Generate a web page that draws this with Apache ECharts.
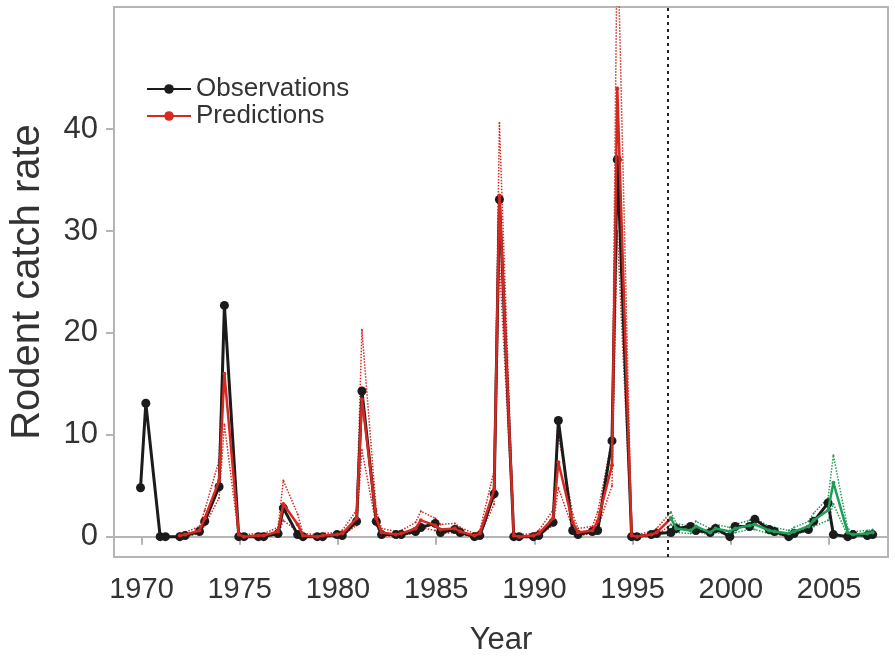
<!DOCTYPE html>
<html>
<head>
<meta charset="utf-8">
<script src="https://cdn.jsdelivr.net/npm/echarts@6/dist/echarts.min.js"></script>
<style>
  html, body { margin: 0; padding: 0; background: #fff; }
  #chart { width: 895px; height: 664px; }
</style>
</head>
<body>
<div id="chart"></div>
<script>
// years of sampling, two samples per year (spring / autumn)
var years = [1970, 1971, 1972, 1973, 1974, 1975, 1976, 1977, 1978, 1979,
             1980, 1981, 1982, 1983, 1984, 1985, 1986, 1987, 1988, 1989,
             1990, 1991, 1992, 1993, 1994, 1995, 1996, 1997, 1998, 1999,
             2000, 2001, 2002, 2003, 2004, 2005, 2006, 2007]

// observations
var obsSpring = [4.8, 0, 0, 0.5, 4.9, 0, 0, 0.3, 0.2, 0,
                 0.2, 1.5, 1.5, 0.2, 0.5, 1.3, 0.7, 0, 4.2, 0,
                 0, 1.4, 0.6, 0.5, 9.4, 0, 0.2, 0.4, 1.0, 0.4,
                 0, 1.0, 0.7, 0, 0.7, 3.3, 0, 0.1]
var obsAutumn = [13.1, 0, 0.1, 1.5, 22.7, 0, 0, 2.8, 0, 0,
                 0.1, 14.3, 0.2, 0.2, 0.9, 0.4, 0.4, 0.1, 33.1, 0,
                 0.1, 11.4, 0.2, 0.6, 37.0, 0, 0.3, 0.8, 0.6, 0.8,
                 1.0, 1.7, 0.5, 0.3, 1.5, 0.2, 0.2, 0.2]

// in-sample predictions (1972 - 1997)
var predYears = [1972, 1973, 1974, 1975, 1976, 1977, 1978, 1979, 1980, 1981,
                 1982, 1983, 1984, 1985, 1986, 1987, 1988, 1989, 1990, 1991,
                 1992, 1993, 1994, 1995, 1996, 1997]
var predSpring = [0.1, 0.6, 5.5, 0.2, 0.1, 0.5, 1.2, 0, 0.2, 1.8,
                  1.8, 0.2, 0.8, 1.1, 0.8, 0.1, 4.6, 0.1, 0.1, 1.8,
                  1.4, 0.6, 7.0, 0.1, 0.2, 1.8]
var predAutumn = [0.2, 1.8, 16, 0, 0.1, 3.2, 0.1, 0.1, 0.3, 13.5,
                  0.4, 0.3, 1.6, 0.7, 0.5, 0.3, 33.5, 0, 0.3, 7.3,
                  0.4, 1.5, 44, 0, 0.4, null]
var predUpperSpring = [0.3, 1.0, 7.5, 0.4, 0.3, 0.9, 2.2, 0.2, 0.4, 2.6,
                       2.6, 0.5, 1.4, 1.8, 1.3, 0.3, 6.5, 0.3, 0.3, 2.6,
                       2.2, 1.0, 9.5, 0.3, 0.5, 2.4]
var predUpperAutumn = [0.4, 2.6, 23, 0.2, 0.3, 5.5, 0.3, 0.3, 0.6, 20.3,
                       0.8, 0.6, 2.5, 1.2, 0.9, 0.6, 40.6, 0.2, 0.6, 10,
                       0.8, 2.4, 60, 0.2, 0.8, null]
var predLowerSpring = [0, 0.3, 3.8, 0, 0, 0.2, 0.5, 0, 0, 1.1,
                       1.1, 0, 0.4, 0.6, 0.4, 0, 3.2, 0, 0, 1.1,
                       0.8, 0.3, 5.0, 0, 0, 1.2]
var predLowerAutumn = [0, 1.1, 11, 0, 0, 1.6, 0, 0, 0.1, 8.5,
                       0.1, 0.1, 0.9, 0.3, 0.2, 0.1, 27, 0, 0.1, 4.8,
                       0.1, 0.8, 30, 0, 0.1, null]

// out-of-sample forecasts (1997 - 2007)
var fcYears = [1997, 1998, 1999, 2000, 2001, 2002, 2003, 2004, 2005, 2006, 2007]
var fcSpring = [1.8, 0.6, 0.4, 0.5, 1.1, 0.6, 0.3, 1.0, 2.6, 0.4, 0.3]
var fcAutumn = [0.8, 1.0, 0.8, 0.8, 1.2, 0.5, 0.5, 1.6, 5.3, 0.2, 0.4]
var fcUpperSpring = [2.4, 1.0, 0.8, 0.9, 1.6, 1.0, 0.6, 1.5, 3.8, 0.8, 0.6]
var fcUpperAutumn = [1.3, 1.5, 1.2, 1.2, 1.8, 0.9, 0.9, 2.3, 8.0, 0.5, 0.7]
var fcLowerSpring = [1.2, 0.3, 0.1, 0.2, 0.7, 0.3, 0.1, 0.6, 1.6, 0.1, 0.1]
var fcLowerAutumn = [0.4, 0.6, 0.4, 0.4, 0.7, 0.2, 0.2, 1.0, 3.2, 0, 0.2]

var yTicks = [0, 10, 20, 30, 40]
var xTicks = [1970, 1975, 1980, 1985, 1990, 1995, 2000, 2005]
var cutYear = 1996.8

// spring sample sits just before the new year, autumn a quarter later
function seasonal (yrs, spring, autumn) {
  var out = []
  for (var i = 0; i < yrs.length; i++) {
    if (spring[i] != null) out.push([yrs[i] - 0.05, spring[i]])
    if (autumn[i] != null) out.push([yrs[i] + 0.22, autumn[i]])
  }
  return out
}

var font = 'Liberation Sans'
var red = '#d42a22'
var green = '#1f9e58'

function band (name, data, color) {
  return {
    name: name,
    type: 'line',
    data: data,
    symbol: 'circle',
    symbolSize: 2,
    showSymbol: true,
    itemStyle: { color: color },
    lineStyle: { color: color, width: 1.5, type: 'dotted' },
    z: 2,
    silent: true
  }
}

var option = {
  animation: false,
  backgroundColor: '#fff',
  grid: {
    left: 112, right: 7, top: 7, bottom: 107,
    show: true, borderColor: '#b5b5b5', borderWidth: 2
  },
  legend: {
    data: ['Observations', 'Predictions'],
    orient: 'vertical',
    left: 141, top: 71,
    itemWidth: 44, itemHeight: 12, itemGap: 1,
    textStyle: { fontFamily: font, fontSize: 26, color: '#333' }
  },
  xAxis: {
    type: 'value',
    min: 1968.6, max: 2008,
    name: 'Year',
    nameLocation: 'middle',
    nameGap: 68,
    nameTextStyle: { fontFamily: font, fontSize: 31, color: '#333' },
    axisLine: { show: true, lineStyle: { color: '#b5b5b5', width: 2 } },
    axisTick: { show: true, length: 8, customValues: xTicks, lineStyle: { color: '#b5b5b5', width: 2 } },
    axisLabel: {
      customValues: xTicks, margin: 18, fontFamily: font, fontSize: 29, color: '#333',
      formatter: function (v) { return String(v) }
    },
    splitLine: { show: false }
  },
  yAxis: {
    type: 'value',
    min: -2, max: 52,
    name: 'Rodent catch rate',
    nameLocation: 'middle',
    nameGap: 66,
    nameTextStyle: { fontFamily: font, fontSize: 40, color: '#333' },
    axisLine: { show: true, lineStyle: { color: '#b5b5b5', width: 2 } },
    axisTick: { show: true, length: 8, customValues: yTicks, lineStyle: { color: '#b5b5b5', width: 2 } },
    axisLabel: { customValues: yTicks, margin: 16, fontFamily: font, fontSize: 31, color: '#333' },
    splitLine: { show: false }
  },
  series: [
    {
      name: 'Observations',
      type: 'line',
      data: seasonal(years, obsSpring, obsAutumn),
      symbol: 'circle',
      symbolSize: 9,
      itemStyle: { color: '#1b1b1b' },
      lineStyle: { color: '#1b1b1b', width: 3 },
      z: 3,
      markLine: {
        silent: true,
        symbol: 'none',
        label: { show: false },
        lineStyle: { color: '#222', width: 2, type: [3, 4] },
        data: [{ xAxis: cutYear }]
      }
    },
    band('pred upper', seasonal(predYears, predUpperSpring, predUpperAutumn), red),
    band('pred lower', seasonal(predYears, predLowerSpring, predLowerAutumn), red),
    {
      name: 'Predictions',
      type: 'line',
      data: seasonal(predYears, predSpring, predAutumn),
      symbol: 'circle',
      symbolSize: 4,
      itemStyle: { color: red },
      lineStyle: { color: red, width: 2.5 },
      z: 4
    },
    band('fc upper', seasonal(fcYears, fcUpperSpring, fcUpperAutumn), green),
    band('fc lower', seasonal(fcYears, fcLowerSpring, fcLowerAutumn), green),
    {
      name: 'Forecast',
      type: 'line',
      data: seasonal(fcYears, fcSpring, fcAutumn),
      symbol: 'circle',
      symbolSize: 4,
      itemStyle: { color: green },
      lineStyle: { color: green, width: 2.5 },
      z: 4
    }
  ]
}

var chart = echarts.init(document.getElementById('chart'))
chart.setOption(option)
</script>
</body>
</html>
